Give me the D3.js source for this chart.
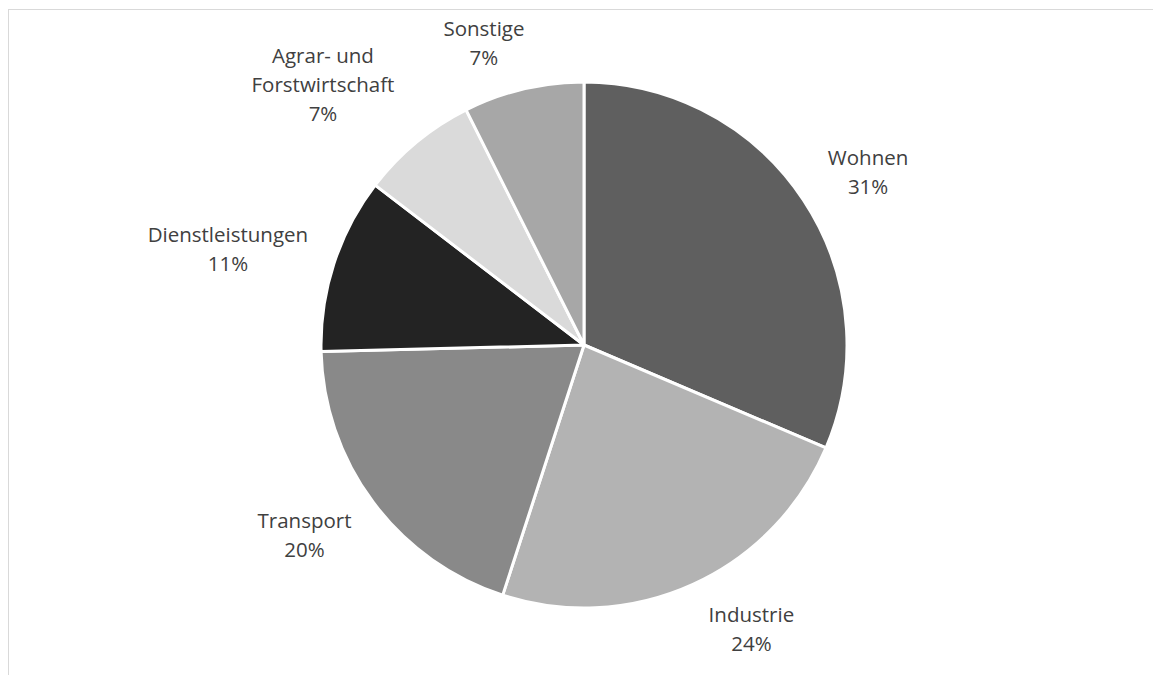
<!DOCTYPE html>
<html>
<head>
<meta charset="utf-8">
<script src="https://cdn.jsdelivr.net/npm/d3@7"></script>
<style>
	body { margin: 0; background: #fff; }
	svg { display: block; }
</style>
</head>
<body>
<div id="chart"></div>
<script>
// Data
var categories = ["Wohnen", "Industrie", "Transport", "Dienstleistungen", "Agrar- und Forstwirtschaft", "Sonstige"];
var labelLines = [["Wohnen"], ["Industrie"], ["Transport"], ["Dienstleistungen"], ["Agrar- und", "Forstwirtschaft"], ["Sonstige"]];
var shares = [31.4, 23.6, 19.6, 10.8, 7.2, 7.4];
var colors = ["#5f5f5f", "#b3b3b3", "#898989", "#232323", "#dadada", "#a7a7a7"];

// Label placement (Excel best-fit): angle shift (deg) from slice middle, distance from centre
var labelShift = [2.6, -5.7, 2.0, -3.4, -5.9, -5.2];
var labelDist = [331, 333, 340, 368, 366, 315];

var width = 1153,
	height = 675,
	cx = 584,
	cy = 345,
	radius = 263,
	lineH = 29;

var svg = d3.select("#chart")
	.append("svg")
	.attr("width", width)
	.attr("height", height);

// chart area border (only top and left visible)
svg.append("rect")
	.attr("x", 8.5)
	.attr("y", 9.5)
	.attr("width", 1200)
	.attr("height", 700)
	.attr("fill", "none")
	.attr("stroke", "#d9d9d9")
	.attr("stroke-width", 1);

var pie = d3.pie().sort(null).value(function(d) { return d; });
var arcs = pie(shares);

var arc = d3.arc().innerRadius(0).outerRadius(radius);

var g = svg.append("g").attr("transform", "translate(" + cx + "," + cy + ")");

g.selectAll("path.slice")
	.data(arcs)
	.enter()
	.append("path")
	.attr("class", "slice")
	.attr("d", arc)
	.attr("fill", function(d, i) { return colors[i]; })
	.attr("stroke", "#fff")
	.attr("stroke-width", 3)
	.attr("stroke-linejoin", "round");

// labels
g.selectAll("text.lbl")
	.data(arcs)
	.enter()
	.append("text")
	.attr("class", "lbl")
	.attr("text-anchor", "middle")
	.style("font-family", "'Open Sans', sans-serif")
	.style("font-size", "20.5px")
	.attr("fill", "#404040")
	.each(function(d, i) {
		var mid = (d.startAngle + d.endAngle) / 2 + labelShift[i] * Math.PI / 180;
		var x = Math.sin(mid) * labelDist[i];
		var y = -Math.cos(mid) * labelDist[i];
		var lines = labelLines[i].concat([d3.format(".0f")(d.value) + "%"]);
		var y0 = y - (lines.length - 1) * lineH / 2 + 4;
		var t = d3.select(this);
		lines.forEach(function(s, k) {
			t.append("tspan")
				.attr("x", x)
				.attr("y", y0 + k * lineH)
				.text(s);
		});
	});
</script>
</body>
</html>
